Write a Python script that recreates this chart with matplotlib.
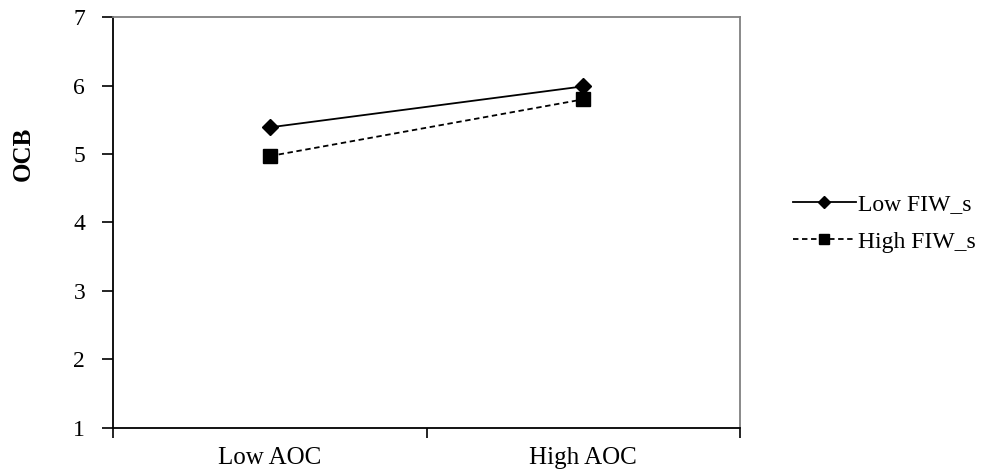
import matplotlib
matplotlib.use("Agg")
import matplotlib.pyplot as plt

categories = ["Low AOC", "High AOC"]
series_names = ["Low FIW_s", "High FIW_s"]
low_fiw = [5.39, 5.99]
high_fiw = [4.97, 5.80]
y_ticks = [1, 2, 3, 4, 5, 6, 7]
y_label = "OCB"

plt.rcParams['font.family'] = ['Liberation Serif', 'DejaVu Serif']

fig = plt.figure(figsize=(10.05, 4.70), dpi=100)
ax = fig.add_axes([113/1005, 1 - 427.5/470, (740-113)/1005, (427.5-17.3)/470])

x = [0.5, 1.5]
l1, = ax.plot(x, low_fiw, color='black', lw=1.3, marker='D', markersize=8.5,
              label=series_names[0])
l2, = ax.plot(x, high_fiw, color='black', lw=1.3, ls=(0, (3, 2)), marker='s',
              markersize=9.5, label=series_names[1])

ax.set_xlim(0, 2)
ax.set_ylim(1, 7)
ax.set_yticks(y_ticks)
ax.set_yticklabels([str(v) for v in y_ticks], fontsize=17)
ax.set_xticks([0, 1, 2])
ax.set_xticklabels([])
ax.set_xticks(x, minor=True)
ax.set_xticklabels(categories, minor=True, fontsize=18)
ax.tick_params(axis='x', which='minor', length=0, pad=14)
ax.tick_params(axis='x', which='major', direction='out', length=7, width=1.2)
ax.tick_params(axis='y', direction='out', length=8, width=1.2, pad=12)

for s in ['left', 'bottom']:
    ax.spines[s].set_color('black')
    ax.spines[s].set_linewidth(1.3)
for s in ['top', 'right']:
    ax.spines[s].set_color('#808080')
    ax.spines[s].set_linewidth(1.3)

ax.set_ylabel(y_label, fontsize=18, fontweight='bold')
ax.yaxis.set_label_coords(-0.125, 0.668)

fig.legend(handles=[l1, l2], loc='center left', bbox_to_anchor=(781/1005, 1 - 223/470),
           frameon=False, fontsize=17, handlelength=2.67, handletextpad=0.1,
           labelspacing=0.68, borderpad=0, markerscale=0.75)

fig.savefig("out.png", dpi=100)
